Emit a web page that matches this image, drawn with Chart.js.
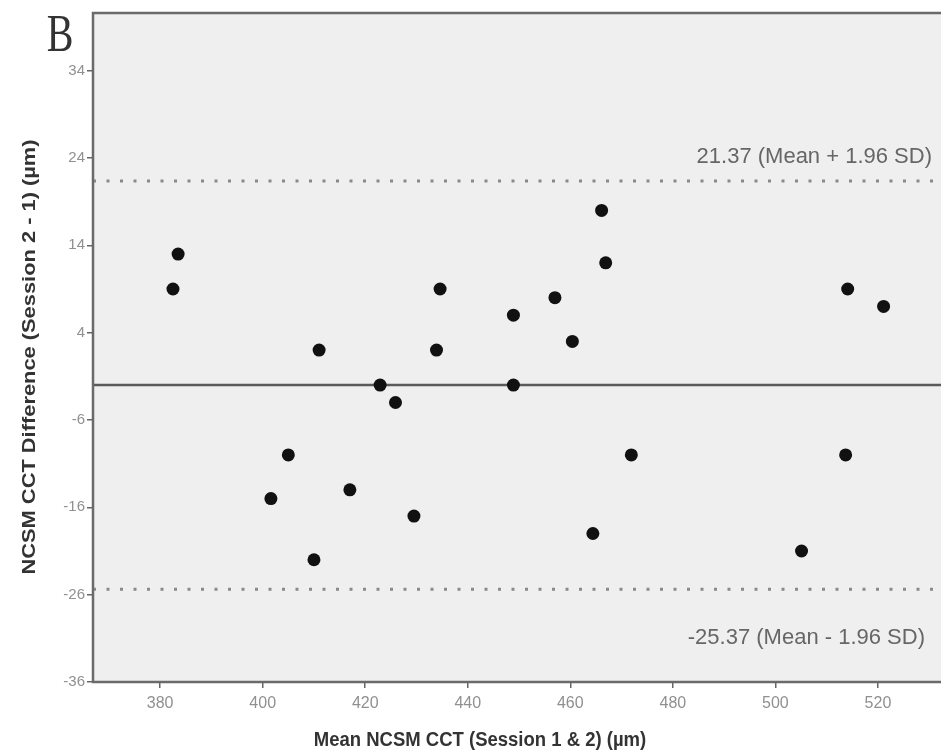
<!DOCTYPE html>
<html>
<head>
<meta charset="utf-8">
<script src="https://cdn.jsdelivr.net/npm/chart.js@4.4.1/dist/chart.umd.min.js"></script>
<style>
  html, body { margin: 0; padding: 0; background: #fff; overflow: hidden; }
</style>
</head>
<body>
<canvas id="baChart" width="941" height="756"></canvas>
<script>
// Bland-Altman: mean of the two sessions (x) and difference session 2 - 1 (y)
const meanCCT = [383.5, 382.5, 411, 434.6, 433.9, 422.9, 425.9, 405, 401.6, 417, 429.5, 410,
                 466.1, 466.9, 457, 448.9, 460.4, 448.9, 471.9, 464.4, 505.1, 514.1, 513.7, 521.1];
const diffCCT = [13, 9, 2, 9, 2, -2, -4, -10, -15, -14, -17, -22,
                 18, 12, 8, 6, 3, -2, -10, -19, -21, 9, -10, 7];

const meanDiff = -2;
const upperLoA = 21.37;
const lowerLoA = -25.37;
const upperLabel = '21.37 (Mean + 1.96 SD)';
const lowerLabel = '-25.37 (Mean - 1.96 SD)';

const xTicks = [380, 400, 420, 440, 460, 480, 500, 520];
const yTicks = [34, 24, 14, 4, -6, -16, -26, -36];
const xRange = [366.9, 532.3];
const yRange = [-36, 40.6];

const xTitle = 'Mean NCSM CCT (Session 1 & 2) (µm)';
const yTitle = 'NCSM CCT Difference (Session 2 - 1) (µm)';
const panelLetter = 'B';

const points = meanCCT.map((m, i) => ({ x: m, y: diffCCT[i] }));

// horizontal line across the whole x range
function hLine(v) {
    return [{ x: xRange[0], y: v }, { x: xRange[1], y: v }];
}

// text drawn with a vertical stretch, like the scanned figure
function stretchedText(ctx, txt, x, y, align, sy) {
    ctx.save();
    ctx.translate(x, y);
    ctx.scale(1, sy);
    ctx.textAlign = align;
    ctx.textBaseline = 'middle';
    ctx.fillText(txt, 0, 0);
    ctx.restore();
}

const plotFrame = {
    id: 'plotFrame',
    beforeDraw(chart) {
        const { ctx, chartArea: a } = chart;
        ctx.save();
        ctx.fillStyle = '#efefef';
        ctx.fillRect(a.left, a.top, a.right - a.left, a.bottom - a.top);
        ctx.restore();
    },
    afterDraw(chart) {
        const { ctx, chartArea: a } = chart;
        const y = chart.scales.y;
        ctx.save();
        // frame (right side runs off the picture)
        ctx.strokeStyle = '#6a6a6a';
        ctx.lineWidth = 2.5;
        ctx.strokeRect(a.left, a.top, a.right - a.left + 10, a.bottom - a.top);

        // limits of agreement labels
        ctx.fillStyle = '#666';
        ctx.font = '22px "Liberation Sans", Arial, sans-serif';
        stretchedText(ctx, upperLabel, 932, y.getPixelForValue(upperLoA) - 24, 'right', 1.0);
        stretchedText(ctx, lowerLabel, 925, y.getPixelForValue(lowerLoA) + 49, 'right', 1.0);

        // axis titles
        ctx.fillStyle = '#333';
        ctx.font = 'bold 18.5px "Liberation Sans", Arial, sans-serif';
        stretchedText(ctx, xTitle, 480, 740, 'center', 1.12);

        ctx.save();
        ctx.translate(30, 357);
        ctx.rotate(-Math.PI / 2);
        ctx.scale(1.15, 1);
        ctx.textAlign = 'center';
        ctx.textBaseline = 'middle';
        ctx.font = 'bold 19px "Liberation Sans", Arial, sans-serif';
        ctx.fillText(yTitle, 0, 0);
        ctx.restore();

        // panel letter
        ctx.fillStyle = '#333';
        ctx.font = '40px "Liberation Serif", "Times New Roman", serif';
        stretchedText(ctx, panelLetter, 60, 37, 'center', 1.3);
        ctx.restore();
    }
};

const ctx = document.getElementById('baChart').getContext('2d');
new Chart(ctx, {
    type: 'scatter',
    data: {
        datasets: [
            {
                label: 'Difference',
                data: points,
                backgroundColor: '#111',
                borderWidth: 0,
                pointRadius: 6.5,
                pointHoverRadius: 6.5
            },
            {
                label: 'Mean',
                data: hLine(meanDiff),
                showLine: true,
                borderColor: '#5a5a5a',
                borderWidth: 2.5,
                pointRadius: 0
            },
            {
                label: 'Upper LoA',
                data: hLine(upperLoA),
                showLine: true,
                borderColor: '#8a8a8a',
                borderWidth: 3,
                borderDash: [3, 10.5],
                pointRadius: 0
            },
            {
                label: 'Lower LoA',
                data: hLine(lowerLoA),
                showLine: true,
                borderColor: '#8a8a8a',
                borderWidth: 3,
                borderDash: [3, 10.5],
                pointRadius: 0
            }
        ]
    },
    options: {
        responsive: false,
        animation: false,
        layout: { autoPadding: false, padding: { top: 13, right: 0, bottom: 0, left: 0 } },
        plugins: {
            legend: { display: false },
            tooltip: { enabled: false }
        },
        scales: {
            x: {
                type: 'linear',
                min: xRange[0],
                max: xRange[1],
                afterBuildTicks: s => { s.ticks = xTicks.map(v => ({ value: v })); },
                afterFit: s => { s.height = 74; },
                border: { display: false },
                grid: { drawOnChartArea: false, drawTicks: true, tickLength: 6, tickColor: '#666', lineWidth: 1.5 },
                ticks: {
                    color: '#909090',
                    padding: 6,
                    maxRotation: 0,
                    font: { family: '"Liberation Sans", Arial, sans-serif', size: 16 }
                }
            },
            y: {
                type: 'linear',
                min: yRange[0],
                max: yRange[1],
                afterBuildTicks: s => { s.ticks = yTicks.map(v => ({ value: v })); },
                afterFit: s => { s.width = 93; },
                border: { display: false },
                grid: { drawOnChartArea: false, drawTicks: true, tickLength: 6, tickColor: '#666', lineWidth: 1.5 },
                ticks: {
                    color: '#909090',
                    padding: 2,
                    font: { family: '"Liberation Sans", Arial, sans-serif', size: 15 }
                }
            }
        }
    },
    plugins: [plotFrame]
});
</script>
</body>
</html>
